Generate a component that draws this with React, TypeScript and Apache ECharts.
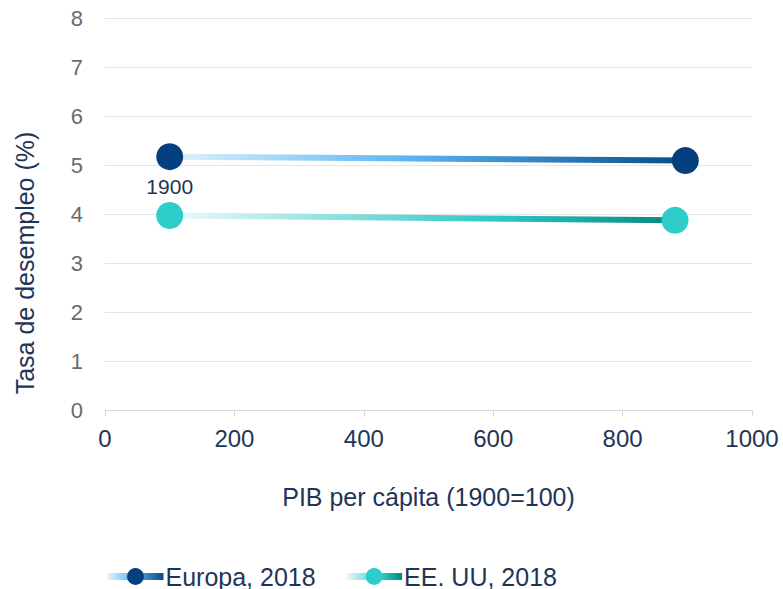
import React, { useEffect, useRef } from "react";
import * as echarts from "echarts";

const seriesNames = ["Europa, 2018", "EE. UU, 2018"];
const europaPoints: [number, number][] = [
  [100, 5.17],
  [897, 5.09],
];
const eeuuPoints: [number, number][] = [
  [100, 3.97],
  [881, 3.87],
];
const startLabel = "1900";
const yTitle = "Tasa de desempleo (%)";
const xTitle = "PIB per cápita (1900=100)";

const FONT = "Liberation Sans, Arial, sans-serif";
const NAVY = "#1f3558";

const europaStops: [number, string][] = [
  [0, "#e2f2fd"],
  [0.45, "#5bb8f5"],
  [1, "#0a4a8a"],
];
const eeuuStops: [number, string][] = [
  [0, "#eefafa"],
  [0.65, "#2cc8c6"],
  [1, "#08877f"],
];

const LEG_W = 56;
const LEG_H = 21;

export default function App() {
  const ref = useRef<HTMLDivElement>(null);
  useEffect(() => {
    if (!ref.current) return;
    const chart = echarts.init(ref.current, undefined, { renderer: "svg" });
    const grad = (stops: [number, string][]) =>
      new echarts.graphic.LinearGradient(
        0,
        0,
        1,
        0,
        stops.map(([offset, color]) => ({ offset, color }))
      );
    const globalGrad = (stops: [number, string][]) =>
      new echarts.graphic.LinearGradient(
        0,
        0,
        LEG_W,
        0,
        stops.map(([offset, color]) => ({ offset, color })),
        true
      );
    chart.setOption({
      animation: false,
      textStyle: { fontFamily: FONT },
      grid: { left: 105, right: 31, top: 18, bottom: 179, containLabel: false },
      xAxis: {
        type: "value",
        min: 0,
        max: 1000,
        interval: 200,
        name: xTitle,
        nameLocation: "middle",
        nameGap: 74,
        nameTextStyle: { color: NAVY, fontSize: 25, fontFamily: FONT },
        axisLine: { show: true, lineStyle: { color: "#d9d9d9", width: 1 } },
        axisTick: { show: true, length: 6, lineStyle: { color: "#d9d9d9" } },
        splitLine: { show: false },
        axisLabel: {
          color: NAVY,
          fontSize: 24,
          margin: 16,
          fontFamily: FONT,
          formatter: (v: number) => String(v),
        },
      },
      yAxis: {
        type: "value",
        min: 0,
        max: 8,
        interval: 1,
        axisLine: { show: false },
        axisTick: { show: false },
        splitLine: { show: true, lineStyle: { color: "#e4e4e4", width: 1 } },
        axisLabel: { color: "#6b6b6b", fontSize: 22, margin: 22, fontFamily: FONT },
      },
      legend: {
        left: 104,
        top: 564,
        padding: 0,
        itemWidth: LEG_W,
        itemHeight: LEG_H,
        itemGap: 27,
        textStyle: {
          color: NAVY,
          fontSize: 25,
          lineHeight: 24,
          fontFamily: FONT,
          padding: [0, 0, 0, -3],
        },
        data: [
          {
            name: seriesNames[0],
            lineStyle: { color: globalGrad(europaStops), width: 7 },
          },
          {
            name: seriesNames[1],
            lineStyle: { color: globalGrad(eeuuStops), width: 7 },
          },
        ],
      },
      graphic: [
        {
          type: "text",
          x: 25,
          y: 263,
          rotation: Math.PI / 2,
          style: {
            text: yTitle,
            fill: NAVY,
            font: `25px ${FONT}`,
            textAlign: "center",
            textVerticalAlign: "middle",
          },
        },
      ],
      series: [
        {
          name: seriesNames[0],
          type: "line",
          symbol: "circle",
          symbolSize: 27,
          z: 3,
          itemStyle: { color: "#053f7e" },
          lineStyle: { width: 6, color: grad(europaStops) },
          data: europaPoints.map((p, i) =>
            i === 0
              ? {
                  value: p,
                  label: {
                    show: true,
                    position: "bottom",
                    distance: 6,
                    formatter: startLabel,
                    color: NAVY,
                    fontSize: 21,
                    fontFamily: FONT,
                  },
                }
              : { value: p }
          ),
        },
        {
          name: seriesNames[1],
          type: "line",
          symbol: "circle",
          symbolSize: 27,
          z: 2,
          itemStyle: { color: "#2ecdcc" },
          lineStyle: { width: 6, color: grad(eeuuStops) },
          data: eeuuPoints,
        },
      ],
    });
    return () => chart.dispose();
  }, []);
  return (
    <div
      ref={ref}
      style={{ position: "absolute", left: 0, top: 0, width: 783, height: 589 }}
    />
  );
}
